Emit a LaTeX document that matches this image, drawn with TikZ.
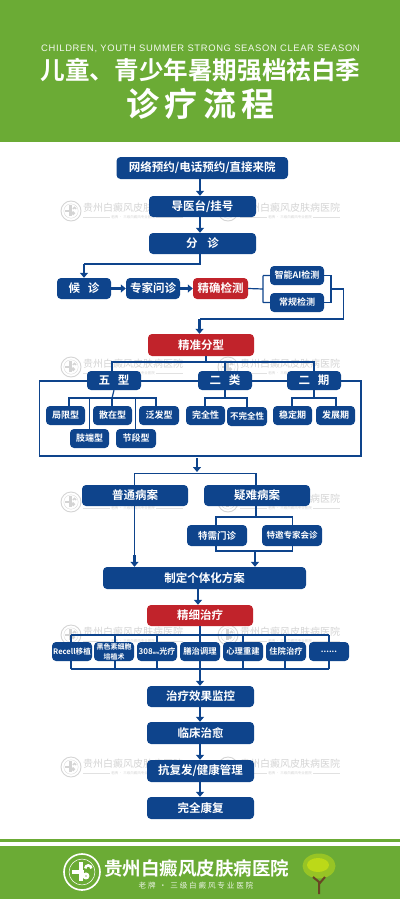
\documentclass[tikz,border=0pt]{standalone}
\usepackage{fontspec}
\setmainfont{Noto Sans CJK SC}[BoldFont={Noto Sans CJK SC Bold}]
\newfontfamily\latinfont{Liberation Sans}
\usetikzlibrary{arrows.meta}
\definecolor{hospgreen}{HTML}{6BAB35}
\definecolor{boxblue}{HTML}{0E448C}
\definecolor{boxred}{HTML}{C1232B}
\definecolor{markgray}{HTML}{D4D4D4}

\tikzset{
    bluebox/.style={fill=boxblue,draw=none,rounded corners=4pt,text=white,font=\bfseries\fontsize{#1}{#1}\selectfont,inner sep=0pt,anchor=center},
    bluebox/.default=11.5,
    redbox/.style={bluebox=#1,fill=boxred},
    redbox/.default=11.5,
    link/.style={draw=boxblue,line width=1.2pt},
    flow/.style={draw=boxblue,line width=2.4pt,-{Triangle[width=8pt,length=5pt]}},
}

% Box from its pixel corners: name, style, left, top, right, bottom, text
\newcommand{\flowbox}[7]{
    \node[#2,minimum width=#5pt-#3pt,minimum height=#6pt-#4pt] (#1) at ({(#3+#5)/2},{(#4+#6)/2}) {#7};
}

% Round hospital mark with its cross
\newcommand{\hospmark}[4]{
    \draw[#4,line width=#3*0.09pt] (#1,#2) circle (#3);
    \draw[#4,line width=#3*0.03pt] (#1,#2) circle (#3*0.72);
    \fill[#4] (#1-#3*0.16,#2-#3*0.56) rectangle (#1+#3*0.08,#2+#3*0.5);
    \fill[#4] (#1-#3*0.58,#2-#3*0.13) rectangle (#1+#3*0.12,#2+#3*0.11);
    \draw[#4,line width=#3*0.14pt] (#1+#3*0.52,#2-#3*0.2) arc (0:-180:#3*0.17) (#1+#3*0.22,#2+#3*0.22) circle (#3*0.12);
}

\begin{document}
\begin{tikzpicture}[x=1pt,y=-1pt]
    \useasboundingbox (0,0) rectangle (400,899);

    % Header band
    \fill[hospgreen] (0,0) rectangle (400,142);
    \node[white!92!hospgreen,font=\latinfont\fontsize{9.4}{10}\selectfont] (subtitle) at (200.5,49) {\addfontfeature{LetterSpace=7}CHILDREN, YOUTH SUMMER STRONG SEASON CLEAR SEASON};
    \node[white,font=\bfseries\fontsize{24.6}{25}\selectfont] (title) at (200.5,70) {儿童、青少年暑期强档祛白季};
    \node[white,font=\bfseries\fontsize{33}{33}\selectfont] (flowtitle) at (200.5,104) {诊\hspace{5.5pt}疗\hspace{5.5pt}流\hspace{5.5pt}程};

    % Watermarks
    \foreach \y in {211,367,502,635,767}
        \foreach \x in {71,228}{
            \hospmark{\x}{\y}{10}{markgray}
            \node[markgray,font=\fontsize{10}{10}\selectfont] at (\x+62,\y-3) {贵州白癜风皮肤病医院};
            \draw[markgray!70,line width=0.4pt] (\x+12,\y+6.5) -- (\x+112,\y+6.5);
            \node[markgray,fill=white,inner sep=1pt,font=\fontsize{3.5}{4}\selectfont] at (\x+62,\y+6.5) {老牌 · 三级白癜风专业医院};
        }

    % Entry steps
    \flowbox{booking}{bluebox}{116.5}{157}{288}{179}{网络预约/电话预约/直接来院}
    \flowbox{guide}{bluebox}{149}{196}{256}{217}{导医台/挂号}
    \flowbox{triage}{bluebox}{149}{233}{256}{254}{分\hspace{10pt}诊}
    \flowbox{waiting}{bluebox}{57}{278}{111}{299}{候\hspace{8pt}诊}
    \flowbox{expert}{bluebox}{126}{278}{180}{299}{专家问诊}
    \flowbox{exact}{redbox}{193}{278}{248}{299}{精确检测}
    \flowbox{aicheck}{bluebox=9}{270}{266}{324}{285}{智能AI检测}
    \flowbox{normal}{bluebox=9}{270}{293}{324}{312}{常规检测}

    % Typing
    \flowbox{typing}{redbox}{148}{334}{254}{356}{精准分型}
    \coordinate (typefork) at (206,362);
    \coordinate (frameTL) at (39.5,381);
    \coordinate (frameBR) at (361,456);
    \coordinate (framein) at (197,458);
    \coordinate (caseabove) at (197,472);
    \draw[link] (frameTL) rectangle (frameBR);
    \draw[link] (typing.south -| typefork) -- (typefork);
    \draw[link] (112,371) |- (314,362) -- (314,371);
    \draw[link] (225,362) -- (225,371);

    \flowbox{five}{bluebox}{87}{371}{141}{390}{五\hspace{8pt}型}
    \flowbox{two}{bluebox}{198}{371}{252}{390}{二\hspace{8pt}类}
    \flowbox{stage}{bluebox}{287}{371}{341}{390}{二\hspace{8pt}期}

    % Sub types
    \draw[link] (five.south) -- (112,398);
    \draw[link] (69,406) |- (156,398) -- (156,406);
    \draw[link] (89.5,398) -- (89.5,429);
    \draw[link] (135.5,398) -- (135.5,429);
    \draw[link] (112,398) -- (112,406);
    \draw[link] (two.south) -- (225,398);
    \draw[link] (205,406) |- (247,398) -- (247,407);
    \draw[link] (stage.south) -- (314,398);
    \draw[link] (292,406) |- (336,398) -- (336,406);
    \flowbox{local}{bluebox=9}{46}{406}{85}{425}{局限型}
    \flowbox{scatter}{bluebox=9}{93}{406}{132}{425}{散在型}
    \flowbox{general}{bluebox=9}{139}{406}{179}{425}{泛发型}
    \flowbox{limb}{bluebox=9}{70}{429}{109}{448}{肢端型}
    \flowbox{segment}{bluebox=9}{116}{429}{156}{448}{节段型}
    \flowbox{whole}{bluebox=9}{186}{406}{225}{425}{完全性}
    \flowbox{partial}{bluebox=8.5}{227}{407}{267}{426}{不完全性}
    \flowbox{stable}{bluebox=9}{273}{406}{312}{425}{稳定期}
    \flowbox{active}{bluebox=9}{316}{406}{355}{425}{发展期}

    % Cases
    \flowbox{usual}{bluebox}{82}{485}{188}{506}{普通病案}
    \flowbox{hard}{bluebox}{204}{485}{310}{506}{疑难病案}
    \flowbox{special}{bluebox=9.5}{187}{525}{247}{546}{特需门诊}
    \flowbox{invited}{bluebox=8.5}{262}{525}{322}{546}{特邀专家会诊}
    \flowbox{plan}{bluebox}{103}{567}{306}{589}{制定个体化方案}
    \flowbox{fine}{redbox}{147}{605}{253}{626}{精细治疗}

    % Treatments
    \foreach \name/\l/\r/\t in {recell/52/92/{\fontsize{7.6}{8}\selectfont Recell移植},
        melano/94/134/{\fontsize{7}{8}\selectfont\shortstack{黑色素细胞\\培植术}},
        laser/137/177/{\fontsize{8}{8}\selectfont 308{\fontsize{4}{4}\selectfont nm}光疗},
        diet/180/220/{膳治调理},
        mind/223/263/{心理重建},
        ward/266/306/{住院治疗},
        more/309/349/{......}}
        {\flowbox{\name}{bluebox=8.3}{\l}{642}{\r}{661}{\t}}

    % Outcome steps
    \flowbox{monitor}{bluebox}{147}{686}{254}{707}{治疗效果监控}
    \flowbox{cured}{bluebox}{147}{722}{254}{744}{临床治愈}
    \flowbox{relapse}{bluebox}{147}{760}{254}{782}{抗复发/健康管理}
    \flowbox{healed}{bluebox}{147}{797}{254}{819}{完全康复}

    % Connectors, top part
    \draw[flow] (booking.south -| 200,0) -- (guide.north -| 200,0);
    \draw[flow] (guide.south -| 200,0) -- (triage.north -| 200,0);
    \draw[link] (triage.south -| 200,0) -- (200,264) -- (84,264);
    \draw[flow] (84,263.5) -- (waiting.north -| 84,0);
    \draw[flow] (waiting) -- (expert);
    \draw[flow] (expert) -- (exact);
    \draw[link] (exact.east) -- (263,289) (263,275.5) -- (aicheck.west) (263,302.5) -- (normal.west) (263,275.5) -- (263,302.5);
    \draw[link] (aicheck.east) -- (331,275.5) -- (331,302.5) -- (normal.east);
    \draw[link] (331,289) -- (343.5,289) -- (343.5,319) -- (199.5,319);
    \draw[flow] (199.5,318.5) -- (typing.north -| 199.5,0);

    % Connectors, cases
    \draw[flow] (framein) -- (caseabove);
    \draw[link] (usual.north -| 134.5,0) |- (256,473.5) -- (hard.north -| 256,0);
    \draw[link] (usual.south -| 134.5,0) -- (134.5,556);
    \draw[flow] (134.5,555) -- (plan.north -| 134.5,0);
    \draw[link] (hard.south -| 256,0) -- (256,517);
    \draw[link] (special.north -| 216,0) |- (292.5,517) -- (invited.north -| 292.5,0);
    \draw[link] (special.south -| 216,0) |- (292.5,551) -- (invited.south -| 292.5,0);
    \draw[flow] (255,551) -- (plan.north -| 255,0);
    \draw[flow] (plan.south -| 198,0) -- (fine.north -| 198,0);

    % Connectors, treatments
    \draw[link] (fine.south -| 200,0) -- (200,635);
    \draw[link] (71,635) -- (329,635);
    \draw[link] (71,669) -- (329,669);
    \foreach \name/\x in {recell/71,melano/115,laser/157,diet/200,mind/243,ward/285,more/329}{
        \draw[link] (\name.north -| \x,0) -- (\x,635);
        \draw[link] (\name.south -| \x,0) -- (\x,669);
    }
    \draw[flow] (200,669) -- (monitor.north -| 200,0);
    \draw[flow] (monitor.south -| 200,0) -- (cured.north -| 200,0);
    \draw[flow] (cured.south -| 200,0) -- (relapse.north -| 200,0);
    \draw[flow] (relapse.south -| 200,0) -- (healed.north -| 200,0);

    % Footer band
    \fill[hospgreen] (0,839) rectangle (400,842);
    \fill[hospgreen] (0,845.5) rectangle (400,899);
    \hospmark{82}{872}{18}{white}
    \node[white,font=\bfseries\fontsize{18.5}{19}\selectfont] (hospname) at (196.5,868) {贵州白癜风皮肤病医院};
    \node[white!85!hospgreen,font=\fontsize{7.6}{8}\selectfont] (hospslogan) at (196,885.5) {\addfontfeature{LetterSpace=24}老牌 · 三级白癜风专业医院};
    \draw[white!75!hospgreen,double=hospgreen,double distance=0.8pt,line width=0.4pt] (104,885.5) -- (131,885.5);
    \draw[white!75!hospgreen,double=hospgreen,double distance=0.8pt,line width=0.4pt] (261,885.5) -- (288,885.5);

    % Tree
    \fill[hospgreen!70!yellow] (319,866) ellipse (16.5 and 12.5);
    \fill[hospgreen!45!yellow] (318,865) ellipse (11 and 7);
    \draw[black!45!brown,line width=2pt] (319,894) -- (319,882) -- (313,877) (319,884) -- (325,877);
\end{tikzpicture}
\end{document}
